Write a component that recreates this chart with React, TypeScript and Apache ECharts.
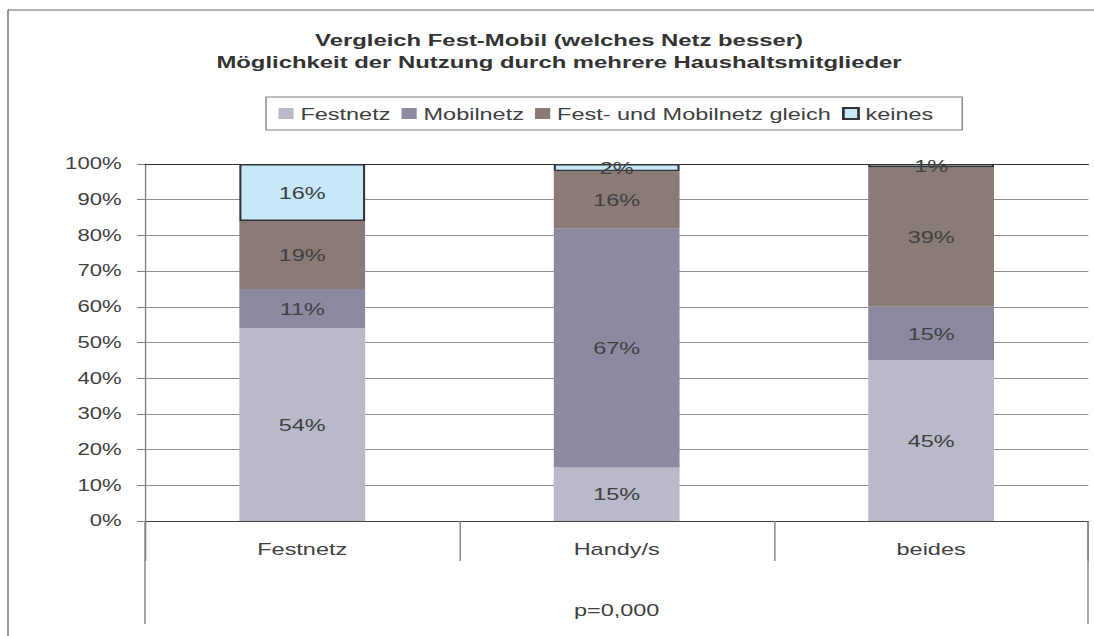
import React, { useEffect, useRef } from "react";
import * as echarts from "echarts";

const categories = ["Festnetz", "Handy/s", "beides"];
const seriesNames = ["Festnetz", "Mobilnetz", "Fest- und Mobilnetz gleich", "keines"];
const festnetzValues = [54, 15, 45];
const mobilnetzValues = [11, 67, 15];
const gleichValues = [19, 16, 39];
const keinesValues = [16, 2, 1];
const yTicks = [0, 10, 20, 30, 40, 50, 60, 70, 80, 90, 100];
const titleLines = [
  "Vergleich Fest-Mobil (welches Netz besser)",
  "Möglichkeit der Nutzung durch mehrere Haushaltsmitglieder",
];
const footnote = "p=0,000";

const S = 1.38;
const W = 1094 / S;
const FONT = "'Liberation Sans', Arial, sans-serif";
const gridLeft = 145 / S;
const gridRightEdge = 1088 / S;
const gridTop = 164;
const gridBottomY = 521;

export default function App() {
  const ref = useRef<HTMLDivElement>(null);
  useEffect(() => {
    if (!ref.current) return;
    const chart = echarts.init(ref.current, null, { renderer: "svg" });
    const colors = ["#B9B9C9", "#8C89A0", "#8A7B76", "#C6E8F8"];
    const valuesList = [festnetzValues, mobilnetzValues, gleichValues, keinesValues];
    const labelStyle = {
      show: true,
      position: "inside",
      formatter: "{c}%",
      color: "#404040",
      fontSize: 17,
      fontFamily: FONT,
    };
    chart.setOption({
      animation: false,
      backgroundColor: "#ffffff",
      title: {
        text: titleLines.join("\n"),
        left: 559 / S,
        top: 29,
        padding: 0,
        textAlign: "center",
        textStyle: {
          fontFamily: FONT,
          fontSize: 17.3,
          fontWeight: "bold",
          color: "#333333",
          lineHeight: 22,
        },
      },
      legend: {
        data: seriesNames,
        left: 266 / S,
        top: 97,
        orient: "horizontal",
        itemWidth: 11,
        itemHeight: 11,
        itemGap: 8,
        padding: [8, 21, 8, 9],
        borderColor: "#808080",
        borderWidth: 1,
        icon: "rect",
        textStyle: { fontFamily: FONT, fontSize: 17, color: "#404040" },
      },
      grid: {
        left: gridLeft,
        right: W - gridRightEdge,
        top: gridTop,
        bottom: 636 - gridBottomY,
        containLabel: false,
      },
      xAxis: [
        {
          type: "category",
          data: categories,
          position: "bottom",
          axisLine: { show: true, lineStyle: { color: "#404040", width: 1 } },
          axisTick: { show: true, length: 40, lineStyle: { color: "#808080" } },
          axisLabel: {
            fontFamily: FONT,
            fontSize: 17,
            color: "#404040",
            margin: 19,
          },
          name: footnote,
          nameLocation: "middle",
          nameGap: 80,
          nameTextStyle: { fontFamily: FONT, fontSize: 17, color: "#404040" },
          splitLine: { show: false },
        },
        {
          type: "category",
          data: categories,
          position: "top",
          axisLine: { show: true, lineStyle: { color: "#333333", width: 1 } },
          axisTick: { show: false },
          axisLabel: { show: false },
          splitLine: { show: false },
        },
      ],
      yAxis: {
        type: "value",
        min: yTicks[0],
        max: yTicks[yTicks.length - 1],
        interval: yTicks[1] - yTicks[0],
        axisLine: { show: true, lineStyle: { color: "#808080" } },
        axisTick: { show: true, length: 8 / S, lineStyle: { color: "#808080" } },
        axisLabel: {
          formatter: "{value}%",
          fontFamily: FONT,
          fontSize: 16,
          color: "#404040",
          margin: 17,
        },
        splitLine: { show: true, lineStyle: { color: "#8C8C8C", width: 1 } },
      },
      series: seriesNames.map((name, i) => ({
        name,
        type: "bar",
        stack: "total",
        barWidth: "40%",
        data: valuesList[i],
        itemStyle:
          i === 3
            ? { color: colors[i], borderColor: "#333333", borderWidth: 1.5 }
            : { color: colors[i] },
        label: labelStyle,
      })),
      graphic: [
        {
          type: "line",
          shape: { x1: 8 / S, y1: 10, x2: W + 10, y2: 10 },
          style: { stroke: "#666666", lineWidth: 1 },
          silent: true,
        },
        {
          type: "line",
          shape: { x1: 8 / S, y1: 10, x2: 8 / S, y2: 640 },
          style: { stroke: "#666666", lineWidth: 1 },
          silent: true,
        },
        {
          type: "line",
          shape: { x1: gridLeft, y1: gridBottomY, x2: gridLeft, y2: 624 },
          style: { stroke: "#808080", lineWidth: 1 },
          silent: true,
        },
        {
          type: "line",
          shape: { x1: gridRightEdge, y1: gridBottomY, x2: gridRightEdge, y2: 624 },
          style: { stroke: "#808080", lineWidth: 1 },
          silent: true,
        },
      ],
    });
    return () => chart.dispose();
  }, []);

  return (
    <div
      style={{
        position: "fixed",
        left: 0,
        top: 0,
        width: 1094,
        height: 636,
        overflow: "hidden",
        background: "#ffffff",
      }}
    >
      <div
        ref={ref}
        style={{
          width: W,
          height: 636,
          transform: `scaleX(${S})`,
          transformOrigin: "0 0",
        }}
      />
    </div>
  );
}
